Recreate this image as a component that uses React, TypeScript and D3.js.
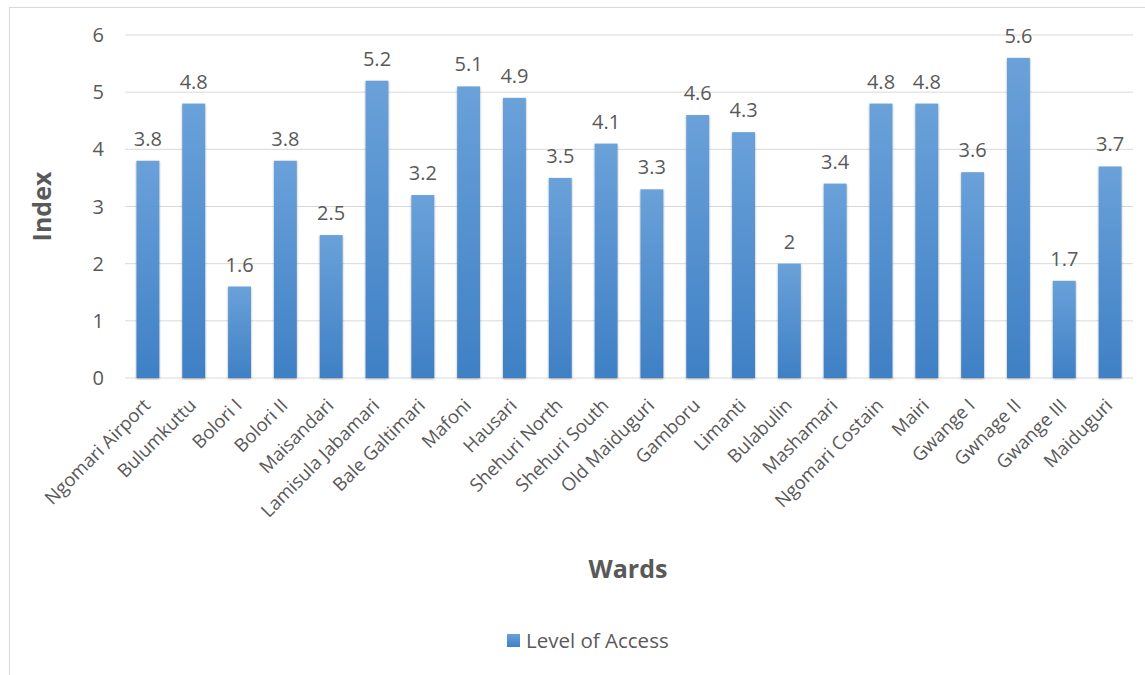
import React from "react";
import * as d3 from "d3";

const wards = [
  "Ngomari Airport", "Bulumkuttu", "Bolori I", "Bolori II", "Maisandari",
  "Lamisula Jabamari", "Bale Galtimari", "Mafoni", "Hausari", "Shehuri North",
  "Shehuri South", "Old Maiduguri", "Gamboru", "Limanti", "Bulabulin",
  "Mashamari", "Ngomari Costain", "Mairi", "Gwange I", "Gwnage II",
  "Gwange III", "Maiduguri",
];
const levelOfAccess = [
  3.8, 4.8, 1.6, 3.8, 2.5, 5.2, 3.2, 5.1, 4.9, 3.5, 4.1, 3.3, 4.6, 4.3, 2,
  3.4, 4.8, 4.8, 3.6, 5.6, 1.7, 3.7,
];
const yTicks = [0, 1, 2, 3, 4, 5, 6];

const W = 1145, H = 675;
const left = 125, right = 1133, top = 35, bottom = 378;
const font = "'Open Sans', 'Liberation Sans', sans-serif";
const textColor = "#595959";

export default function App() {
  const x = d3.scaleBand<string>().domain(wards).range([left, right]).paddingInner(0.5).paddingOuter(0.25);
  const y = d3.scaleLinear().domain([0, 6]).range([bottom, top]);
  return (
    <svg width={W} height={H} style={{ position: "absolute", left: 0, top: 0, background: "#fff" }}>
      <defs>
        <linearGradient id="barGrad" x1="0" y1="0" x2="0" y2="1">
          <stop offset="0%" stopColor="#6aa1d9" />
          <stop offset="100%" stopColor="#3f80c5" />
        </linearGradient>
        <filter id="shadow" x="-30%" y="-10%" width="160%" height="120%">
          <feDropShadow dx="0" dy="1" stdDeviation="1.2" floodColor="#000" floodOpacity="0.35" />
        </filter>
      </defs>
      <rect x={9.5} y={7.5} width={1200} height={800} fill="#fff" stroke="#d9d9d9" />
      {yTicks.map((t) => (
        <g key={t}>
          <line x1={left} x2={right} y1={y(t)} y2={y(t)} stroke="#d9d9d9" strokeWidth={1} />
          <text x={104} y={y(t)} dy="0.35em" textAnchor="end" fontFamily={font} fontSize={20} fill={textColor}>{t}</text>
        </g>
      ))}
      {wards.map((w, i) => {
        const bx = x(w)!;
        const bw = x.bandwidth();
        const v = levelOfAccess[i];
        const cx = bx + bw / 2;
        return (
          <g key={w}>
            <rect x={bx} y={y(v)} width={bw} height={y(0) - y(v)} fill="url(#barGrad)" filter="url(#shadow)" />
            <text x={cx} y={y(v) - 15} textAnchor="middle" fontFamily={font} fontSize={20} fill={textColor}>{v}</text>
            <text transform={`translate(${cx - 1},${bottom + 24}) rotate(-45)`} textAnchor="end" dy="0.35em" fontFamily={font} fontSize={18.5} fill={textColor}>{w}</text>
          </g>
        );
      })}
      <text transform={`translate(42,${(top + bottom) / 2}) rotate(-90)`} textAnchor="middle" dy="0.35em" fontFamily={font} fontSize={25} fontWeight="bold" fill={textColor}>Index</text>
      <text x={628} y={569} textAnchor="middle" dy="0.35em" fontFamily={font} fontSize={25} fontWeight="bold" fill={textColor}>Wards</text>
      <rect x={507} y={634} width={13} height={13} fill="url(#barGrad)" />
      <text x={526} y={641} dy="0.35em" fontFamily={font} fontSize={20.5} fill={textColor}>Level of Access</text>
    </svg>
  );
}
